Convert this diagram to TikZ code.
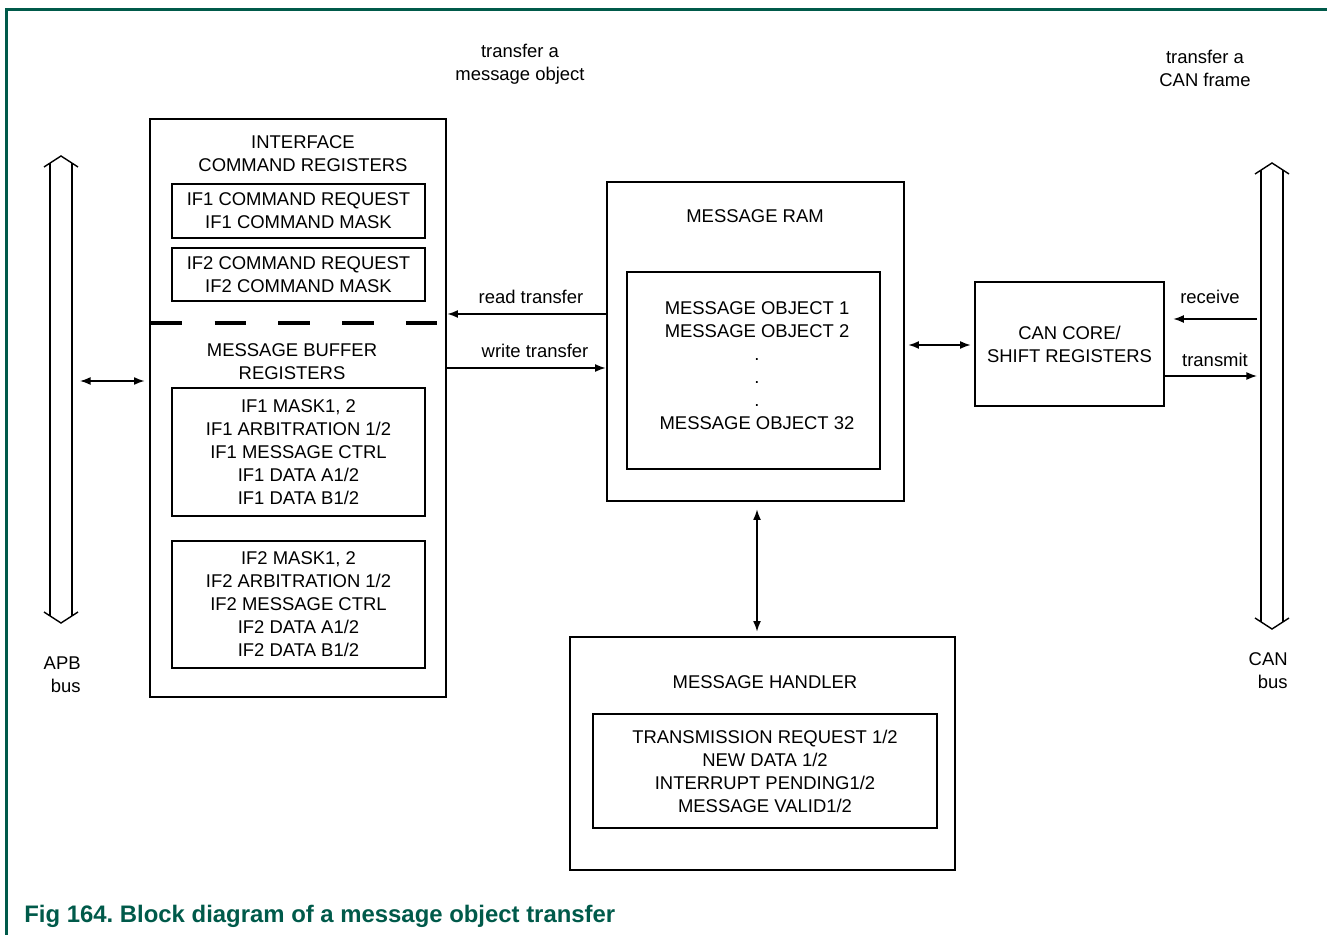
\documentclass[tikz,border=0pt]{standalone}
\usepackage{fontspec}
\setmainfont{Liberation Sans}
\usetikzlibrary{arrows.meta,positioning}
\definecolor{nxpgreen}{HTML}{005A4A}
\newcommand{\regfont}{\fontsize{10.5}{13.1}\selectfont}
\tikzset{
  blk/.style={draw,line width=1.6pt,inner sep=0pt,align=center,font=\regfont},
  txt/.style={align=center,font=\regfont,inner sep=0pt},
  link/.style={line width=0.8pt,-{Latex[length=6pt,width=4.5pt]}},
  dlink/.style={line width=0.8pt,{Latex[length=6pt,width=4.5pt]}-{Latex[length=6pt,width=4.5pt]}},
  bus/.style={line width=0.8pt}
}

\begin{document}
\begin{tikzpicture}[x=0.02cm,y=-0.02cm]
  \useasboundingbox (0,0) rectangle (1327,935);
  \draw[nxpgreen,line width=1.4pt] (6.5,935) -- (6.5,9.5) -- (1327,9.5);

  % interface registers
  \node[blk,minimum width=5.92cm,minimum height=11.56cm] (ifblk) at (298,408) {};
  \node[txt] (iftitle) at (303,154) {INTERFACE\\COMMAND REGISTERS};
  \node[blk,minimum width=5.06cm,minimum height=1.08cm] (if1cmd) at (298.5,211) {IF1 COMMAND REQUEST\\IF1 COMMAND MASK};
  \node[blk,minimum width=5.06cm,minimum height=1.06cm] (if2cmd) at (298.5,274.5) {IF2 COMMAND REQUEST\\IF2 COMMAND MASK};
  \draw[line width=2pt,dash pattern=on 18pt off 18.3pt] ([xshift=1.2pt]ifblk.west |- 0,323) -- (ifblk.east |- 0,323);
  \node[txt] (buftitle) at (292,362) {MESSAGE BUFFER\\REGISTERS};
  \node[blk,minimum width=5.06cm,minimum height=2.56cm] (if1buf) at (298.5,452) {IF1 MASK1, 2\\IF1 ARBITRATION 1/2\\IF1 MESSAGE CTRL\\IF1 DATA A1/2\\IF1 DATA B1/2};
  \node[blk,minimum width=5.06cm,minimum height=2.54cm] (if2buf) at (298.5,604.5) {IF2 MASK1, 2\\IF2 ARBITRATION 1/2\\IF2 MESSAGE CTRL\\IF2 DATA A1/2\\IF2 DATA B1/2};

  % message ram
  \node[blk,minimum width=5.94cm,minimum height=6.38cm] (ram) at (755.5,341.5) {};
  \node[txt] (ramtitle) at (755,216) {MESSAGE RAM};
  \node[blk,minimum width=5.06cm,minimum height=3.94cm] (objs) at (753.5,370.5) {};
  \node[txt] (objtxt) at (757,366) {MESSAGE OBJECT 1\\MESSAGE OBJECT 2\\.\\.\\.\\MESSAGE OBJECT 32};
  \node[txt] (xferobj) at (520,64) {transfer a\\message object};

  % can core
  \node[blk,minimum width=3.78cm,minimum height=2.48cm] (core) at (1069.5,344) {CAN CORE/\\SHIFT REGISTERS};
  \node[txt] (xferfrm) at (1205,68.5) {transfer a\\CAN frame};

  % message handler
  \node[blk,minimum width=7.7cm,minimum height=4.66cm] (handler) at (762.5,753.5) {};
  \node[txt] (hdltitle) at (765,682) {MESSAGE HANDLER};
  \node[blk,minimum width=6.88cm,minimum height=2.28cm] (flags) at (765,771) {TRANSMISSION REQUEST 1/2\\NEW DATA 1/2\\INTERRUPT PENDING1/2\\MESSAGE VALID1/2};

  % buses
  \foreach \cx/\ytop/\ybot in {61/156/623,1272/163/629}{
    \draw[bus] (\cx-17,\ytop+11) -- (\cx,\ytop) -- (\cx+17,\ytop+11);
    \draw[bus] (\cx-17,\ybot-11) -- (\cx,\ybot) -- (\cx+17,\ybot-11);
    \draw[bus] (\cx-11,\ytop+7.1) -- (\cx-11,\ybot-7.1);
    \draw[bus] (\cx+11,\ytop+7.1) -- (\cx+11,\ybot-7.1);
  }
  \coordinate (apb) at (80,381);
  \coordinate (canbus) at (1257,345);
  \node[txt,align=right,anchor=east] (apblbl) at (81,675) {APB\\bus};
  \node[txt,align=right,anchor=east] (canlbl) at (1288,671) {CAN\\bus};

  % transfers
  \draw[dlink,shorten >=2.3pt] (apb) -- (ifblk.west |- apb);
  \draw[link] (ram.west |- 0,314) -- (ifblk.east |- 0,314);
  \node[txt] (rdlbl) at (531,297) {read transfer};
  \draw[link] (ifblk.east |- 0,368) -- (ram.west |- 0,368);
  \node[txt] (wrlbl) at (535,351) {write transfer};
  \draw[dlink,shorten <=1.7pt,shorten >=1.7pt] (ram.east |- 0,345) -- (core.west |- 0,345);
  \draw[dlink,shorten <=4pt,shorten >=2.3pt] (ram.south -| 757,0) -- (handler.north -| 757,0);
  \draw[link,shorten >=4.5pt] (canbus |- 0,319) -- (core.east |- 0,319);
  \node[txt] (rxlbl) at (1210,297) {receive};
  \draw[link] (core.east |- 0,376) -- (canbus |- 0,376);
  \node[txt] (txlbl) at (1215,360) {transmit};

  \node[anchor=west,inner sep=0pt,font=\bfseries\fontsize{13.6}{15}\selectfont,text=nxpgreen] (caption) at (24,916) {Fig 164.\ Block diagram of a message object transfer};
\end{tikzpicture}
\end{document}
